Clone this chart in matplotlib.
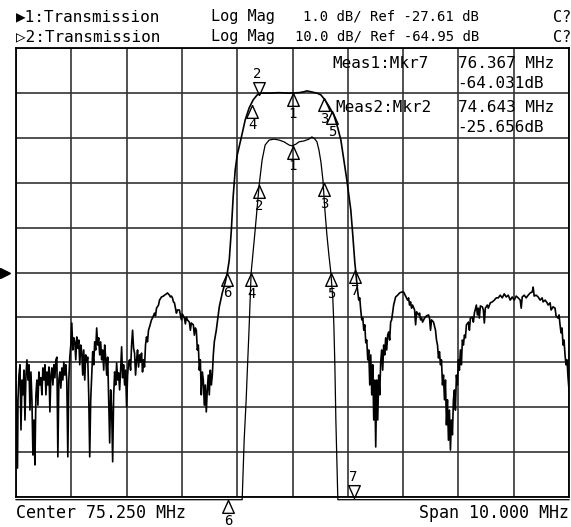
import numpy as np
import matplotlib
matplotlib.use("Agg")
import matplotlib.pyplot as plt
from matplotlib.transforms import blended_transform_factory

plt.rcParams['font.family'] = ['DejaVu Sans Mono', 'DejaVu Sans']

# analyzer settings
center_mhz = 75.25
span_mhz = 10.0
ref1_db, per_div1 = -27.61, 1.0    # channel 1, 1 dB/div
ref2_db, per_div2 = -64.95, 10.0   # channel 2, 10 dB/div
ref_div = 5                        # reference line, divisions above bottom
n_div = 10

# channel 2 trace (wide, 10 dB/div)
t2_freq = [
    70.250, 70.268, 70.277, 70.286, 70.304, 70.322, 70.340, 70.358, 70.376, 70.394,
    70.412, 70.430, 70.448, 70.466, 70.484, 70.502, 70.520, 70.538, 70.556, 70.574,
    70.592, 70.610, 70.628, 70.646, 70.664, 70.682, 70.700, 70.718, 70.736, 70.755,
    70.773, 70.791, 70.809, 70.827, 70.845, 70.863, 70.881, 70.899, 70.917, 70.935,
    70.953, 70.971, 70.989, 71.007, 71.025, 71.043, 71.061, 71.079, 71.097, 71.115,
    71.133, 71.151, 71.169, 71.187, 71.205, 71.223, 71.241, 71.259, 71.277, 71.295,
    71.313, 71.331, 71.349, 71.367, 71.385, 71.403, 71.421, 71.439, 71.457, 71.475,
    71.493, 71.511, 71.529, 71.547, 71.565, 71.583, 71.601, 71.619, 71.637, 71.655,
    71.673, 71.691, 71.709, 71.727, 71.745, 71.763, 71.781, 71.799, 71.818, 71.836,
    71.854, 71.872, 71.890, 71.908, 71.926, 71.944, 71.962, 71.980, 71.998, 72.016,
    72.034, 72.052, 72.070, 72.088, 72.106, 72.124, 72.142, 72.160, 72.178, 72.196,
    72.214, 72.232, 72.250, 72.268, 72.286, 72.304, 72.322, 72.340, 72.358, 72.376,
    72.394, 72.412, 72.430, 72.448, 72.466, 72.484, 72.502, 72.520, 72.538, 72.556,
    72.574, 72.592, 72.610, 72.628, 72.646, 72.664, 72.700, 72.718, 72.755, 72.773,
    72.791, 72.827, 72.845, 72.881, 72.917, 72.935, 72.971, 72.989, 73.025, 73.043,
    73.061, 73.079, 73.097, 73.115, 73.133, 73.151, 73.169, 73.205, 73.223, 73.241,
    73.259, 73.295, 73.313, 73.331, 73.349, 73.385, 73.403, 73.421, 73.457, 73.475,
    73.493, 73.511, 73.529, 73.547, 73.565, 73.583, 73.601, 73.619, 73.637, 73.655,
    73.673, 73.691, 73.709, 73.727, 73.745, 73.764, 73.782, 73.800, 73.818, 73.836,
    73.872, 73.926, 73.980, 74.034, 74.070, 74.106, 74.142, 74.178, 74.214, 74.250,
    74.322, 74.394, 74.466, 74.539, 74.611, 74.683, 74.827, 75.007, 75.187, 75.367,
    75.457, 75.511, 75.583, 75.692, 75.764, 75.836, 75.908, 75.998, 76.070, 76.124,
    76.178, 76.232, 76.268, 76.304, 76.340, 76.376, 76.394, 76.412, 76.430, 76.448,
    76.466, 76.484, 76.503, 76.521, 76.539, 76.557, 76.575, 76.593, 76.611, 76.629,
    76.647, 76.665, 76.683, 76.701, 76.719, 76.737, 76.755, 76.773, 76.791, 76.809,
    76.827, 76.845, 76.863, 76.881, 76.899, 76.917, 76.935, 76.953, 76.971, 76.989,
    77.007, 77.025, 77.043, 77.079, 77.115, 77.151, 77.187, 77.223, 77.259, 77.295,
    77.331, 77.349, 77.367, 77.385, 77.403, 77.422, 77.458, 77.476, 77.494, 77.530,
    77.548, 77.566, 77.584, 77.602, 77.638, 77.674, 77.710, 77.728, 77.746, 77.764,
    77.800, 77.836, 77.854, 77.872, 77.890, 77.908, 77.926, 77.944, 77.962, 77.980,
    77.998, 78.016, 78.034, 78.052, 78.070, 78.088, 78.106, 78.124, 78.142, 78.160,
    78.178, 78.196, 78.214, 78.232, 78.250, 78.268, 78.286, 78.304, 78.322, 78.341,
    78.359, 78.377, 78.395, 78.431, 78.449, 78.467, 78.503, 78.521, 78.539, 78.575,
    78.593, 78.611, 78.629, 78.647, 78.683, 78.701, 78.719, 78.737, 78.773, 78.791,
    78.827, 78.863, 78.899, 78.935, 78.971, 79.007, 79.043, 79.079, 79.115, 79.151,
    79.187, 79.223, 79.259, 79.295, 79.331, 79.368, 79.386, 79.404, 79.440, 79.476,
    79.512, 79.548, 79.584, 79.602, 79.620, 79.656, 79.692, 79.728, 79.764, 79.782,
    79.818, 79.854, 79.872, 79.908, 79.926, 79.962, 79.998, 80.016, 80.052, 80.070,
    80.088, 80.106, 80.124, 80.142, 80.160, 80.178, 80.196, 80.214, 80.232, 80.250,
]
t2_db = [
    -90.0, -102.3, -108.5, -93.3, -87.8, -85.5, -100.0, -88.9, -92.2, -86.7,
    -97.8, -87.8, -84.4, -88.9, -85.5, -95.6, -87.1, -93.3, -105.6, -97.8,
    -107.8, -92.2, -88.9, -94.5, -87.1, -90.0, -88.4, -92.2, -86.2, -88.9,
    -85.5, -92.2, -87.1, -90.0, -86.0, -96.0, -87.8, -86.2, -90.0, -85.5,
    -88.4, -84.4, -83.8, -106.0, -88.9, -87.1, -90.7, -86.2, -88.9, -84.9,
    -87.8, -85.5, -89.3, -106.0, -88.9, -83.8, -81.1, -76.2, -82.2, -79.5,
    -80.4, -84.4, -79.3, -81.8, -80.0, -85.5, -81.1, -82.6, -87.8, -82.2,
    -88.9, -83.3, -84.9, -83.8, -92.2, -106.0, -93.3, -87.8, -82.6, -85.5,
    -80.4, -82.2, -77.3, -81.1, -79.5, -83.3, -80.4, -84.4, -82.2, -86.7,
    -81.1, -84.0, -87.8, -83.8, -93.3, -102.9, -91.1, -95.6, -107.1, -92.2,
    -87.1, -90.0, -85.1, -88.9, -87.3, -91.1, -86.7, -81.5, -88.4, -85.5,
    -90.0, -86.7, -94.9, -87.8, -84.9, -84.4, -86.7, -81.1, -77.8, -81.8,
    -82.9, -87.8, -84.4, -82.2, -86.0, -83.3, -84.9, -82.9, -87.1, -84.4,
    -86.0, -81.1, -79.3, -80.4, -77.8, -77.1, -75.5, -75.1, -74.0, -74.6,
    -72.9, -72.2, -71.1, -70.4, -70.2, -70.0, -69.7, -69.5, -70.0, -70.4,
    -70.2, -70.6, -71.5, -71.7, -72.9, -74.0, -73.3, -73.3, -74.4, -75.5,
    -74.2, -75.1, -76.4, -74.9, -75.5, -76.0, -77.8, -76.2, -76.6, -78.9,
    -77.3, -77.8, -82.2, -81.1, -86.7, -84.4, -92.2, -87.1, -88.9, -94.5,
    -90.0, -96.0, -91.1, -87.8, -92.2, -86.7, -90.0, -87.8, -83.3, -80.4,
    -77.8, -72.6, -69.5, -67.1, -65.1, -62.2, -55.9, -47.9, -42.1, -38.8,
    -35.0, -31.0, -28.3, -26.5, -25.4, -25.0, -25.0, -24.9, -25.0, -24.9,
    -24.7, -24.5, -24.7, -25.0, -25.4, -26.5, -27.9, -29.9, -32.8, -35.4,
    -39.9, -44.3, -47.7, -51.0, -56.6, -62.6, -64.8, -67.1, -69.3, -71.1,
    -70.6, -73.3, -75.5, -75.1, -77.8, -76.6, -80.6, -80.0, -84.4, -82.2,
    -90.0, -83.3, -92.2, -85.5, -97.8, -88.9, -103.8, -88.9, -97.8, -87.8,
    -92.2, -84.9, -82.2, -86.7, -81.1, -83.3, -79.5, -82.2, -78.9, -78.2,
    -80.0, -76.0, -75.5, -72.2, -70.4, -70.0, -69.5, -69.3, -69.3, -70.2,
    -71.1, -70.6, -72.2, -71.5, -72.9, -72.2, -73.3, -76.6, -73.7, -74.4,
    -74.0, -75.5, -75.1, -76.0, -75.1, -74.6, -74.4, -75.1, -77.8, -75.5,
    -76.0, -77.8, -80.0, -81.1, -84.0, -82.6, -85.5, -84.4, -90.0, -87.8,
    -93.3, -88.9, -98.9, -93.3, -102.3, -95.6, -104.5, -97.8, -101.1, -93.3,
    -91.1, -95.6, -87.8, -90.0, -84.4, -86.7, -82.2, -85.5, -80.0, -81.1,
    -78.9, -79.5, -76.6, -76.0, -77.8, -75.1, -74.9, -76.0, -74.0, -72.2,
    -74.4, -72.9, -75.1, -72.4, -72.6, -73.3, -76.2, -72.9, -72.2, -72.9,
    -71.7, -71.5, -71.1, -70.6, -70.6, -70.0, -70.6, -69.7, -70.4, -70.0,
    -71.1, -70.4, -71.1, -70.2, -70.6, -71.1, -72.9, -70.4, -70.0, -70.6,
    -70.0, -69.5, -69.3, -68.2, -70.2, -70.0, -70.4, -71.1, -70.6, -71.5,
    -71.1, -71.7, -72.2, -71.7, -73.3, -72.6, -72.9, -74.6, -75.1, -74.4,
    -76.6, -78.4, -77.3, -81.1, -80.0, -83.3, -85.5, -84.4, -88.2, -91.1,
]

# channel 1 trace (narrow, 1 dB/div); -33 means below the screen
t1_freq = [
    70.250, 74.340, 74.376, 74.412, 74.430, 74.466, 74.502, 74.575, 74.647, 74.701,
    74.755, 74.827, 74.917, 75.007, 75.097, 75.187, 75.241, 75.313, 75.367, 75.457,
    75.547, 75.601, 75.656, 75.692, 75.728, 75.764, 75.800, 75.836, 75.872, 75.908,
    75.944, 75.980, 75.998, 76.016, 76.034, 76.052, 76.070, 80.250,
]
t1_db = [
    -33.0, -32.7, -31.34, -30.45, -29.89, -28.82, -27.62, -26.66, -25.66, -25.10,
    -24.77, -24.66, -24.64, -24.66, -24.70, -24.77, -24.79, -24.75, -24.70, -24.68,
    -24.64, -24.59, -24.64, -24.70, -24.88, -25.15, -25.55, -26.22, -26.77, -27.22,
    -27.62, -28.22, -28.78, -29.67, -30.89, -31.79, -32.7, -33.0,
]

# markers
m2_freq = [75.250, 75.818, 74.520, 75.962, 74.070, 76.376]
m2_db = [-25.0, -26.1, -27.6, -29.0, -65.0, -64.4]
m2_label = ['1', '3', '4', '5', '6', '7']
m2_active = (74.643, -25.4, '2')

m1_freq = [75.250, 74.643, 75.818, 74.502, 75.944]
m1_db = [-24.79, -25.66, -25.62, -27.62, -27.62]
m1_label = ['1', '2', '3', '4', '5']
m1_low = (74.088, -32.68, '6')       # off screen, shown under the grid
m1_active = (76.367, -32.63, '7')

header1 = ['▶1:Transmission', 'Log Mag', '1.0 dB/ Ref -27.61 dB', 'C?']
header2 = ['▷2:Transmission', 'Log Mag', '10.0 dB/ Ref -64.95 dB', 'C?']
readout = [('Meas1:Mkr7', 332, 64), ('76.367 MHz', 458, 64), ('-64.031dB', 457, 83),
           ('Meas2:Mkr2', 335, 107), ('74.643 MHz', 458, 107), ('-25.656dB', 457, 128)]

W, H = 571, 527
fig = plt.figure(figsize=(W / 100, H / 100), dpi=100)
fig.patch.set_facecolor('white')


def px(x, y):
    return x / W, 1 - y / H


gl, gr, gt, gb = 16, 569, 48, 497
ax = fig.add_axes([gl / W, 1 - gb / H, (gr - gl) / W, (gb - gt) / H])
fmin, fmax = center_mhz - span_mhz / 2, center_mhz + span_mhz / 2
ax.set_xlim(fmin, fmax)
lo2 = ref2_db - ref_div * per_div2
ax.set_ylim(lo2, lo2 + n_div * per_div2)
ax.set_xticks(np.linspace(fmin, fmax, n_div + 1))
ax.set_yticks(np.linspace(lo2, lo2 + n_div * per_div2, n_div + 1))
ax.tick_params(length=0, labelbottom=False, labelleft=False)
ax.grid(True, color='#333333', lw=1.2)
for s in ax.spines.values():
    s.set_color('black')
    s.set_linewidth(1.3)

ax1 = ax.twinx()
lo1 = ref1_db - ref_div * per_div1
ax1.set_ylim(lo1, lo1 + n_div * per_div1)
ax1.set_yticks([])
ax1.tick_params(length=0, labelright=False)
for s in ax1.spines.values():
    s.set_visible(False)

ax.plot(t2_freq, t2_db, color='black', lw=1.2)
ax1.plot(t1_freq, np.clip(t1_db, lo1 - 0.06, None), color='black', lw=0.9, clip_on=False)

tri_up = [(0, 0), (-0.45, -1), (0.45, -1), (0, 0)]
tri_dn = [(0, 0), (-0.45, 1), (0.45, 1), (0, 0)]


def marker(axis, f, db, label, down=False):
    axis.plot([f], [db], marker=tri_dn if down else tri_up, ms=18.5, mfc='none',
              mec='black', mew=1.0, ls='none', clip_on=False)
    if down:
        axis.annotate(label, (f, db), xytext=(-1, 9.8), textcoords='offset points',
                      ha='center', va='bottom', fontsize=10, annotation_clip=False)
    else:
        axis.annotate(label, (f, db), xytext=(0, -9.8), textcoords='offset points',
                      ha='center', va='top', fontsize=10, annotation_clip=False)


for f, d, l in zip(m2_freq, m2_db, m2_label):
    marker(ax, f, d, l)
marker(ax, *m2_active, down=True)
for f, d, l in zip(m1_freq, m1_db, m1_label):
    marker(ax1, f, d, l)
marker(ax1, *m1_low)
marker(ax1, *m1_active, down=True)

# reference level pointer on the left edge
tr = blended_transform_factory(ax.transAxes, ax.transData)
ax.plot([-0.019], [ref2_db], marker='>', ms=7.5, color='black', transform=tr, clip_on=False)

for row, y in ((header1, 17), (header2, 37)):
    fig.text(*px(16, y), row[0], fontsize=11.5, va='center', ha='left')
    fig.text(*px(211, y), row[1], fontsize=11, va='center', ha='left')
    fig.text(*px(479, y), row[2], fontsize=10, va='center', ha='right')
    fig.text(*px(571, y), row[3], fontsize=11, va='center', ha='right')
for txt, x, y in readout:
    fig.text(*px(x, y), txt, fontsize=11.5, va='center', ha='left')

fig.text(*px(16, 513), 'Center 75.250 MHz', fontsize=12, va='center', ha='left')
fig.text(*px(569, 513), 'Span 10.000 MHz', fontsize=12, va='center', ha='right')

fig.savefig('out.png', dpi=100, facecolor='white')
